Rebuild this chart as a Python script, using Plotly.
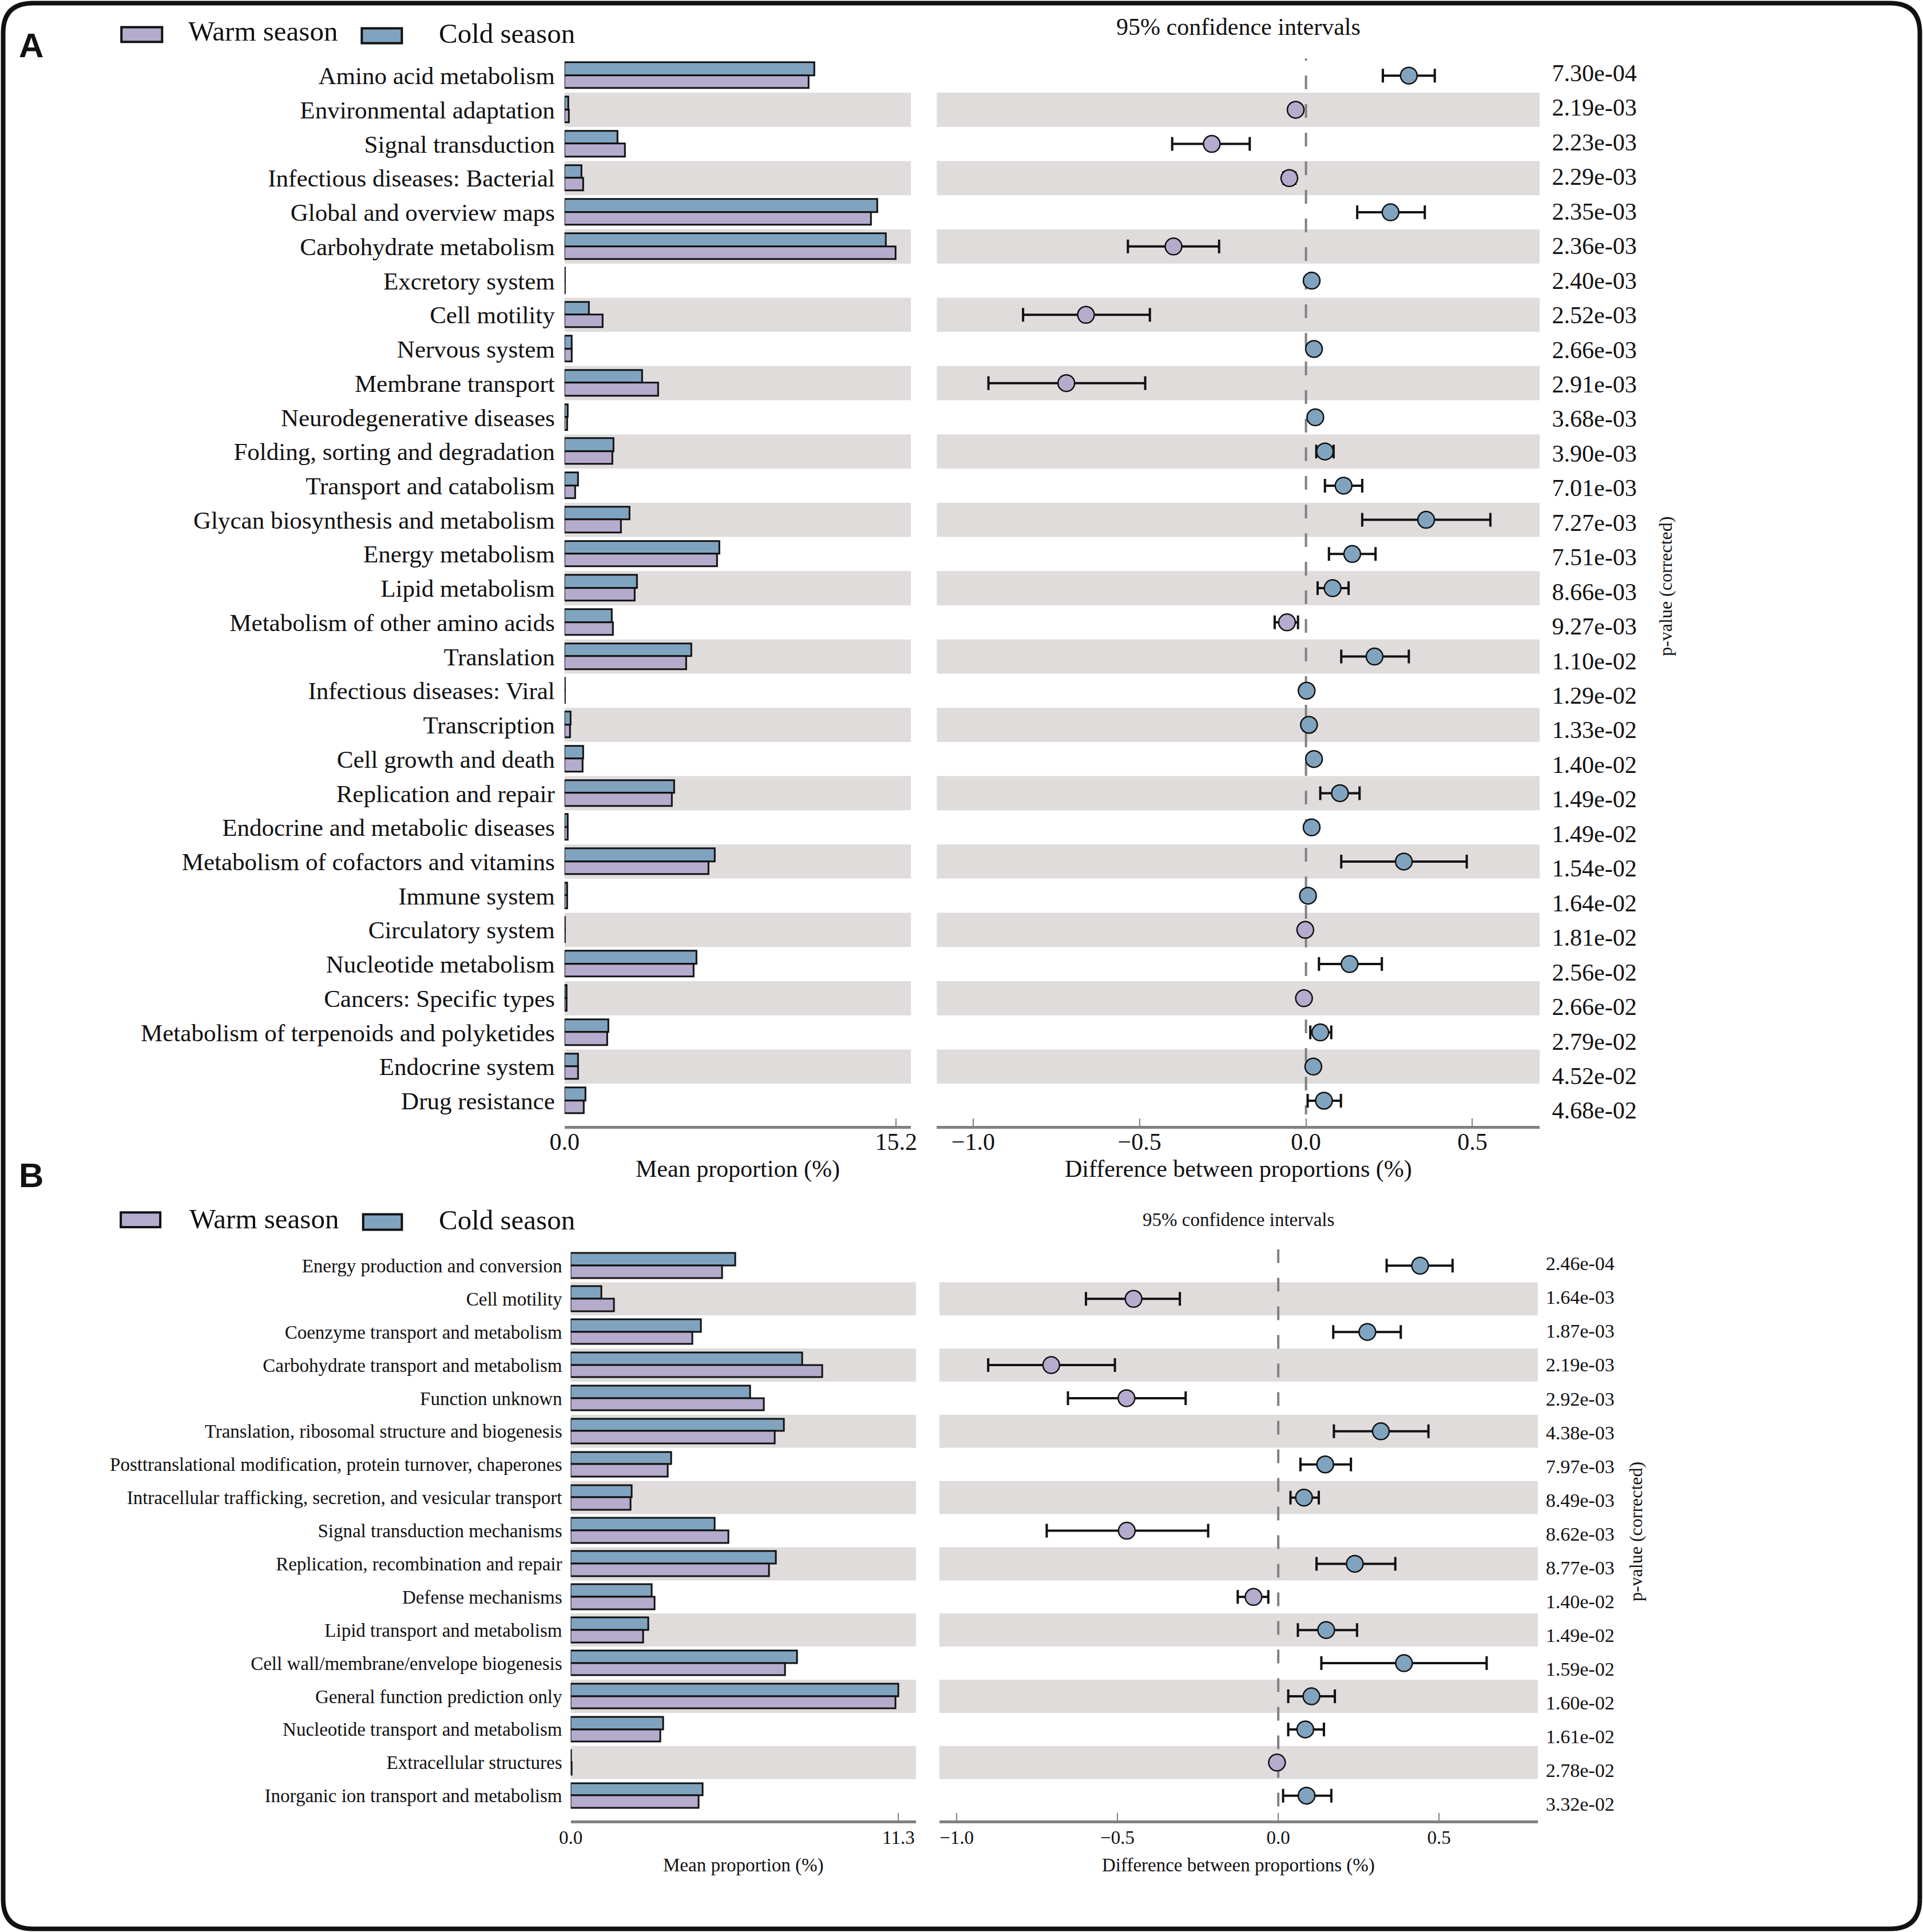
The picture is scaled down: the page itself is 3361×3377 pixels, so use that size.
import plotly.graph_objects as go

W, H = 3361, 3377
SX = 3361 / 1560.0   # reference-display px -> figure px
SY = 3377 / 1568.0

def fx(d):
    return d * SX / W

def fy(d):
    return 1 - d * SY / H

SERIF = "Liberation Serif, Times New Roman, serif"
SANS = "Liberation Sans, Arial, sans-serif"
COLD = "#80a4bf"
WARM = "#b5abcd"
BAND = "#e0dcdc"
GRAY = "#808080"
INK = "#111111"

# ---------------- Panel A data (KEGG level 2) ----------------
a_categories = [
    "Amino acid metabolism", "Environmental adaptation", "Signal transduction",
    "Infectious diseases: Bacterial", "Global and overview maps", "Carbohydrate metabolism",
    "Excretory system", "Cell motility", "Nervous system", "Membrane transport",
    "Neurodegenerative diseases", "Folding, sorting and degradation", "Transport and catabolism",
    "Glycan biosynthesis and metabolism", "Energy metabolism", "Lipid metabolism",
    "Metabolism of other amino acids", "Translation", "Infectious diseases: Viral",
    "Transcription", "Cell growth and death", "Replication and repair",
    "Endocrine and metabolic diseases", "Metabolism of cofactors and vitamins", "Immune system",
    "Circulatory system", "Nucleotide metabolism", "Cancers: Specific types",
    "Metabolism of terpenoids and polyketides", "Endocrine system", "Drug resistance",
]
a_warm = [11.19, 0.22, 2.77, 0.87, 14.07, 15.2, 0.02, 1.75, 0.33, 4.29,
          0.14, 2.20, 0.51, 2.60, 7.00, 3.22, 2.23, 5.59, 0.02, 0.27,
          0.84, 4.92, 0.16, 6.61, 0.13, 0.03, 5.93, 0.10, 1.98, 0.62, 0.90]
a_cold = [11.47, 0.19, 2.43, 0.79, 14.35, 14.75, 0.03, 1.13, 0.35, 3.56,
          0.17, 2.26, 0.62, 2.99, 7.12, 3.33, 2.18, 5.82, 0.03, 0.28,
          0.86, 5.03, 0.17, 6.89, 0.14, 0.03, 6.05, 0.10, 2.03, 0.64, 0.96]
a_diff = [0.309, -0.031, -0.283, -0.050, 0.254, -0.398, 0.017, -0.661, 0.024, -0.720,
          0.028, 0.057, 0.113, 0.361, 0.139, 0.080, -0.057, 0.206, 0.002, 0.009,
          0.024, 0.102, 0.017, 0.294, 0.006, -0.002, 0.131, -0.006, 0.043, 0.022, 0.054]
a_ci_low = [0.231, -0.045, -0.402, -0.068, 0.154, -0.535, 0.008, -0.850, 0.012, -0.954,
            0.015, 0.031, 0.057, 0.169, 0.069, 0.035, -0.094, 0.106, 0.000, 0.003,
            0.010, 0.043, 0.007, 0.106, 0.002, -0.004, 0.039, -0.011, 0.013, 0.010, 0.005]
a_ci_high = [0.387, -0.017, -0.169, -0.032, 0.357, -0.261, 0.026, -0.469, 0.036, -0.483,
             0.041, 0.083, 0.169, 0.554, 0.209, 0.128, -0.024, 0.309, 0.004, 0.015,
             0.038, 0.161, 0.027, 0.483, 0.010, 0.000, 0.228, -0.001, 0.076, 0.036, 0.105]
a_pvalues = ["7.30e-04", "2.19e-03", "2.23e-03", "2.29e-03", "2.35e-03", "2.36e-03",
             "2.40e-03", "2.52e-03", "2.66e-03", "2.91e-03", "3.68e-03", "3.90e-03",
             "7.01e-03", "7.27e-03", "7.51e-03", "8.66e-03", "9.27e-03", "1.10e-02",
             "1.29e-02", "1.33e-02", "1.40e-02", "1.49e-02", "1.49e-02", "1.54e-02",
             "1.64e-02", "1.81e-02", "2.56e-02", "2.66e-02", "2.79e-02", "4.52e-02", "4.68e-02"]
a_bar_ticks = [0.0, 15.2]
a_bar_ticktext = ["0.0", "15.2"]

# ---------------- Panel B data (COG) ----------------
b_categories = [
    "Energy production and conversion", "Cell motility", "Coenzyme transport and metabolism",
    "Carbohydrate transport and metabolism", "Function unknown",
    "Translation, ribosomal structure and biogenesis",
    "Posttranslational modification, protein turnover, chaperones",
    "Intracellular trafficking, secretion, and vesicular transport",
    "Signal transduction mechanisms", "Replication, recombination and repair",
    "Defense mechanisms", "Lipid transport and metabolism",
    "Cell wall/membrane/envelope biogenesis", "General function prediction only",
    "Nucleotide transport and metabolism", "Extracellular structures",
    "Inorganic ion transport and metabolism",
]
b_warm = [5.23, 1.49, 4.20, 8.67, 6.67, 7.05, 3.36, 2.08, 5.44, 6.84,
          2.89, 2.51, 7.39, 11.21, 3.10, 0.03, 4.42]
b_cold = [5.69, 1.06, 4.50, 7.99, 6.20, 7.35, 3.48, 2.12, 4.97, 7.09,
          2.80, 2.68, 7.82, 11.30, 3.19, 0.02, 4.55]
b_diff = [0.441, -0.450, 0.277, -0.706, -0.472, 0.319, 0.146, 0.080, -0.471, 0.238,
          -0.077, 0.149, 0.391, 0.103, 0.084, -0.004, 0.088]
b_ci_low = [0.337, -0.598, 0.171, -0.902, -0.654, 0.173, 0.069, 0.038, -0.720, 0.119,
            -0.126, 0.061, 0.134, 0.031, 0.031, -0.008, 0.015]
b_ci_high = [0.542, -0.306, 0.381, -0.508, -0.288, 0.467, 0.226, 0.126, -0.218, 0.364,
             -0.031, 0.245, 0.648, 0.176, 0.142, 0.000, 0.165]
b_pvalues = ["2.46e-04", "1.64e-03", "1.87e-03", "2.19e-03", "2.92e-03", "4.38e-03",
             "7.97e-03", "8.49e-03", "8.62e-03", "8.77e-03", "1.40e-02", "1.49e-02",
             "1.59e-02", "1.60e-02", "1.61e-02", "2.78e-02", "3.32e-02"]
b_bar_ticks = [0.0, 11.3]
b_bar_ticktext = ["0.0", "11.3"]

ci_ticks = [-1.0, -0.5, 0.0, 0.5]
ci_ticktext = ["\u22121.0", "\u22120.5", "0.0", "0.5"]

legend_names = ["Warm season", "Cold season"]

fig = go.Figure()
layout = dict(
    width=W, height=H, autosize=False,
    margin=dict(l=0, r=0, t=0, b=0, pad=0, autoexpand=False),
    paper_bgcolor="white", plot_bgcolor="rgba(0,0,0,0)",
    showlegend=False, bargap=0,
)
shapes = []
annotations = []


def sfx(a):
    return "" if a == 1 else str(a)


def add_panel(ax, cats, warm, cold, diff, lo, hi, pvals, bar_ticks, bar_ticktext, geo):
    n = len(cats)
    idx = list(range(n))
    bx, cx, px_ = [sfx(a) for a in ax]
    ybot = n - 0.5 + geo["extra"]
    # bars
    fig.add_trace(go.Bar(x=cold, y=idx, orientation="h", width=0.375, offset=-0.375,
                         marker=dict(color=COLD, line=dict(color=INK, width=3)),
                         xaxis=f"x{bx}", yaxis=f"y{bx}", name=legend_names[1]))
    fig.add_trace(go.Bar(x=warm, y=idx, orientation="h", width=0.375, offset=0.0,
                         marker=dict(color=WARM, line=dict(color=INK, width=3)),
                         xaxis=f"x{bx}", yaxis=f"y{bx}", name=legend_names[0]))
    # zero dashed line
    fig.add_trace(go.Scatter(x=[0, 0], y=[geo["dash_top"], geo["dash_bot"]], mode="lines",
                             line=dict(color=GRAY, width=4, dash="24px,26px"),
                             xaxis=f"x{cx}", yaxis=f"y{cx}", hoverinfo="skip"))
    # CI points
    cols = [COLD if d > 0 else WARM for d in diff]
    fig.add_trace(go.Scatter(
        x=diff, y=idx, mode="markers",
        marker=dict(symbol="circle", size=29, color=cols, line=dict(color=INK, width=2.5)),
        error_x=dict(type="data", symmetric=False,
                     array=[h - d for h, d in zip(hi, diff)],
                     arrayminus=[d - l for d, l in zip(diff, lo)],
                     color=INK, thickness=4, width=12),
        xaxis=f"x{cx}", yaxis=f"y{cx}"))
    # p-values
    fig.add_trace(go.Scatter(x=[0] * n, y=idx, mode="text", text=pvals,
                             textposition="middle right",
                             textfont=dict(family=SERIF, size=geo["pfs"], color=INK),
                             xaxis=f"x{px_}", yaxis=f"y{px_}", hoverinfo="skip"))

    ydom = [fy(geo["axis_y"]), fy(geo["top"])]
    axis_common = dict(showgrid=False, zeroline=False, fixedrange=True, automargin=False)
    tick_common = dict(showline=True, linecolor=GRAY, linewidth=5, ticks="inside",
                       ticklen=13, tickwidth=2, tickcolor=GRAY,
                       tickfont=dict(family=SERIF, size=geo["fs"], color=INK),
                       ticklabelstandoff=geo["tstand"])
    layout[f"xaxis{bx}"] = dict(domain=[fx(geo["bx0"]), fx(geo["bx1"])], range=geo["brange"],
                                tickvals=bar_ticks, ticktext=bar_ticktext,
                                anchor=f"y{bx}", **axis_common, **tick_common)
    layout[f"yaxis{bx}"] = dict(domain=ydom, range=[ybot, -0.5], anchor=f"x{bx}",
                                tickvals=idx, ticktext=cats, ticks="", showline=False,
                                tickfont=dict(family=SERIF, size=geo["lfs"], color=INK),
                                ticklabelstandoff=geo["ystand"], **axis_common)
    layout[f"xaxis{cx}"] = dict(domain=[fx(geo["cx0"]), fx(geo["cx1"])], range=geo["crange"],
                                tickvals=ci_ticks, ticktext=ci_ticktext,
                                anchor=f"y{cx}", **axis_common, **tick_common)
    layout[f"yaxis{cx}"] = dict(domain=ydom, range=[ybot, -0.5], anchor=f"x{cx}",
                                visible=False, **axis_common)
    layout[f"xaxis{px_}"] = dict(domain=[fx(geo["px0"]), fx(geo["px0"] + 90)], range=[0, 1],
                                 anchor=f"y{px_}", visible=False, **axis_common)
    layout[f"yaxis{px_}"] = dict(domain=ydom, range=geo["prange"], anchor=f"x{px_}",
                                 visible=False, **axis_common)

    # alternating row bands
    for i in range(1, n, 2):
        for a in (bx, cx):
            shapes.append(dict(type="rect", xref=f"x{a} domain", yref=f"y{a}",
                               x0=0, x1=1, y0=i - 0.5, y1=i + 0.5,
                               fillcolor=BAND, line=dict(width=0), layer="below"))

    # axis titles
    for a, t in ((bx, "Mean proportion (%)"), (cx, "Difference between proportions (%)")):
        annotations.append(dict(text=t, xref=f"x{a} domain", x=0.5, yref="paper",
                                y=fy(geo["title_y"]), showarrow=False,
                                xanchor="center", yanchor="middle",
                                font=dict(family=SERIF, size=geo["fs"], color=INK)))
    annotations.append(dict(text="95% confidence intervals", xref=f"x{cx} domain", x=0.5,
                            yref="paper", y=fy(geo["ci_title_y"]), showarrow=False,
                            xanchor="center", yanchor="middle",
                            font=dict(family=SERIF, size=geo["fs"], color=INK)))
    annotations.append(dict(text="p-value (corrected)", xref="paper", x=fx(geo["pv_x"]),
                            yref="paper", y=fy(geo["pv_y"]), showarrow=False, textangle=-90,
                            xanchor="center", yanchor="middle",
                            font=dict(family=SERIF, size=32, color=INK)))
    # panel letter
    annotations.append(dict(text=f"<b>{geo['letter']}</b>", xref="paper", x=fx(25.5),
                            yref="paper", y=fy(geo["letter_y"]), showarrow=False,
                            xanchor="center", yanchor="middle",
                            font=dict(family=SANS, size=60, color=INK)))
    # legend
    for (x0, x1, y0, y1, col, tx, ty, name) in geo["legend"]:
        shapes.append(dict(type="rect", xref="paper", yref="paper",
                           x0=fx(x0), x1=fx(x1), y0=fy(y1), y1=fy(y0),
                           fillcolor=col, line=dict(color=INK, width=4)))
        annotations.append(dict(text=name, xref="paper", yref="paper", x=fx(tx), y=fy(ty),
                                showarrow=False, xanchor="left", yanchor="middle",
                                font=dict(family=SERIF, size=49, color=INK)))


geoA = dict(letter="A", letter_y=37, top=47.5, axis_y=913.7, extra=0.234,
            bx0=458, bx1=739, brange=[0, 15.88],
            cx0=760, cx1=1249, crange=[-1.109, 0.702],
            px0=1259, prange=[30.378, -0.481],
            dash_top=-0.84, dash_bot=30.4,
            fs=42, lfs=43, pfs=42, tstand=-13, ystand=16,
            title_y=949, ci_title_y=22, pv_x=1351, pv_y=476,
            legend=[(98.5, 131.5, 22, 34, WARM, 152, 25.5, legend_names[0]),
                    (293.5, 326, 23, 35, COLD, 355, 27, legend_names[1])])
geoB = dict(letter="B", letter_y=954, top=1013.8, axis_y=1477.6, extra=0.253,
            bx0=463, bx1=743, brange=[0, 11.9],
            cx0=762, cx1=1247.5, crange=[-1.054, 0.807],
            px0=1254, prange=[16.433, -0.481],
            dash_top=-0.5, dash_bot=16.4,
            fs=33, lfs=33, pfs=34, tstand=-4, ystand=14,
            title_y=1514, ci_title_y=990, pv_x=1327, pv_y=1243,
            legend=[(98, 130, 984, 996, WARM, 152.5, 989, legend_names[0]),
                    (294.6, 326, 985.5, 998, COLD, 355, 990, legend_names[1])])

add_panel((1, 2, 3), a_categories, a_warm, a_cold, a_diff, a_ci_low, a_ci_high, a_pvalues,
          a_bar_ticks, a_bar_ticktext, geoA)
add_panel((4, 5, 6), b_categories, b_warm, b_cold, b_diff, b_ci_low, b_ci_high, b_pvalues,
          b_bar_ticks, b_bar_ticktext, geoB)

# rounded outer frame
L, T, R, B, r = 5.5, 5.5, 3355.5, 3371.5, 52
def P(x, y):
    return f"{x / W:.5f},{1 - y / H:.5f}"
path = (f"M{P(L + r, T)} L{P(R - r, T)} Q{P(R, T)} {P(R, T + r)} L{P(R, B - r)} "
        f"Q{P(R, B)} {P(R - r, B)} L{P(L + r, B)} Q{P(L, B)} {P(L, B - r)} "
        f"L{P(L, T + r)} Q{P(L, T)} {P(L + r, T)} Z")
shapes.append(dict(type="path", xref="paper", yref="paper", path=path,
                   line=dict(color=INK, width=8), layer="above"))

layout["shapes"] = shapes
layout["annotations"] = annotations
fig.update_layout(**layout)
post = ("document.documentElement.style.margin='0';document.body.style.margin='0';"
        "document.body.style.padding='0';document.body.style.overflow='hidden';")
fig.write_html("out.html", config={"displayModeBar": False}, post_script=post)
